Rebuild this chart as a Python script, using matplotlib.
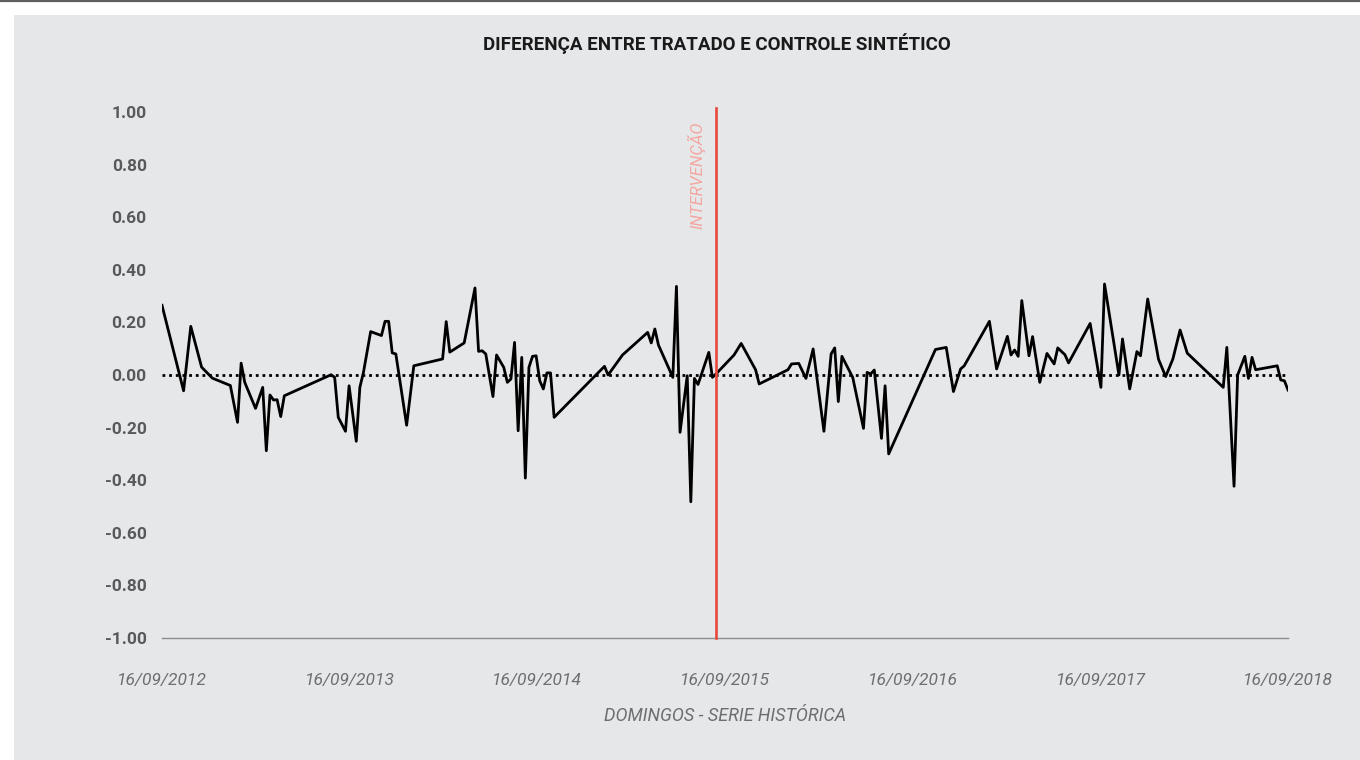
import numpy as np
import pandas as pd
import matplotlib
matplotlib.use("Agg")
import matplotlib.pyplot as plt
import matplotlib.dates as mdates
from matplotlib.patches import Rectangle
from matplotlib.lines import Line2D

# weekly series (sundays), counted in weeks from 16/09/2012
start = "2012-09-16"
weeks = [0, 6, 8, 11, 14, 19, 21, 22, 23, 26, 28, 29, 30, 31, 32, 33, 34,
         47, 48, 49, 51, 52, 54, 55, 56, 58, 61, 62, 63, 64, 65, 68, 70,
         78, 79, 80, 84, 87, 88, 89, 90, 92, 93, 95, 96, 97, 98, 99, 100,
         101, 102, 103, 104, 105, 106, 107, 108, 109,
         123, 124, 128, 135, 136, 137, 138, 142, 143, 144, 146, 147, 148, 149,
         152, 153, 154,
         159, 161, 165, 166, 174, 175, 177, 179, 181, 184, 186, 187, 188, 189,
         192, 195, 196, 197, 198, 200, 201, 202,
         215, 218, 220, 222, 223, 230, 232, 235, 236, 237, 238, 239, 241, 242,
         244, 246, 248, 249, 251, 252, 258, 261, 262, 266, 267, 269, 271, 272,
         274, 277, 279, 281, 283, 285, 295, 296, 298, 299, 301, 302, 303, 304,
         310, 311, 312, 313]
diff = [0.265, -0.060, 0.185, 0.030, -0.012, -0.040, -0.180, 0.045, -0.028, -0.127, -0.047, -0.288, -0.076, -0.095, -0.094, -0.158, -0.079,
        0.001, -0.009, -0.161, -0.214, -0.041, -0.252, -0.047, 0.010, 0.165, 0.150, 0.204, 0.204, 0.084, 0.080, -0.191, 0.035,
        0.061, 0.203, 0.087, 0.122, 0.331, 0.090, 0.092, 0.080, -0.082, 0.076, 0.029, -0.028, -0.015, 0.124, -0.212, 0.067,
        -0.392, 0.029, 0.071, 0.073, -0.022, -0.053, 0.008, 0.008, -0.161,
        0.033, 0.000, 0.076, 0.162, 0.122, 0.175, 0.114, -0.009, 0.337, -0.218, -0.003, -0.482, -0.013, -0.036,
        0.086, -0.009, 0.004,
        0.076, 0.120, 0.020, -0.034, 0.020, 0.042, 0.044, -0.013, 0.099, -0.214, 0.080, 0.103, -0.101, 0.071,
        -0.009, -0.203, 0.010, 0.004, 0.019, -0.241, -0.041, -0.300,
        0.097, 0.105, -0.063, 0.023, 0.035, 0.204, 0.023, 0.147, 0.076, 0.095, 0.071, 0.283, 0.073, 0.146,
        -0.028, 0.082, 0.042, 0.103, 0.077, 0.046, 0.196, -0.047, 0.346, 0.000, 0.137, -0.053, 0.089, 0.073,
        0.289, 0.060, -0.006, 0.061, 0.171, 0.083, -0.047, 0.105, -0.423, 0.000, 0.071, -0.013, 0.067, 0.020,
        0.035, -0.019, -0.022, -0.057]
intervention = "2015-08-30"
xticks = ["2012-09-16", "2013-09-16", "2014-09-16", "2015-09-16",
          "2016-09-16", "2017-09-16", "2018-09-16"]
yticks = [-1.0, -0.8, -0.6, -0.4, -0.2, 0.0, 0.2, 0.4, 0.6, 0.8, 1.0]

title = "DIFERENÇA ENTRE TRATADO E CONTROLE SINTÉTICO"
xlabel = "DOMINGOS - SERIE HISTÓRICA"
interv_label = "INTERVENÇÃO"

plt.rcParams['font.family'] = ['Roboto', 'DejaVu Sans']

dates = pd.Timestamp(start) + pd.to_timedelta(np.array(weeks) * 7, unit="D")

bg = "#e6e7e9"
fig = plt.figure(figsize=(13.6, 7.6), dpi=100, facecolor="white")
# grey panel + thin dark rule at the top
fig.patches.append(Rectangle((14 / 1360, 0), 1 - 14 / 1360, 1 - 15 / 760,
                             transform=fig.transFigure, facecolor=bg,
                             edgecolor="none", zorder=-5))
fig.lines.append(Line2D([0, 1], [1 - 1 / 760, 1 - 1 / 760], transform=fig.transFigure,
                        color="#5f5f5f", linewidth=1.6, zorder=-4))

ax = fig.add_axes([162 / 1360, 122 / 760, 1126 / 1360, 526 / 760])
ax.set_facecolor("none")

ax.plot(dates, diff, color="black", linewidth=2.0, zorder=3)
ax.axhline(0, color="black", linewidth=2.0, linestyle=(0, (1, 1.4)), zorder=2)
ax.axvline(pd.Timestamp(intervention), ymin=0, ymax=1.008, color="#e8473e",
           linewidth=1.9, clip_on=False, zorder=4)
ax.text(pd.Timestamp(intervention) - pd.Timedelta(days=39), 0.76, interv_label,
        rotation=90, ha="center", va="center", color="#f4a6a1",
        fontsize=12, fontstyle="italic")

ax.set_xlim(pd.Timestamp(xticks[0]), pd.Timestamp(xticks[-1]))
ax.set_ylim(-1.0, 1.0)
ax.set_xticks([pd.Timestamp(t) for t in xticks])
ax.xaxis.set_major_formatter(mdates.DateFormatter("%d/%m/%Y"))
ax.set_yticks(yticks)
ax.set_yticklabels([f"{v:.2f}" for v in yticks])

for s in ["top", "right", "left"]:
    ax.spines[s].set_visible(False)
ax.spines["bottom"].set_color("#8c8c8c")
ax.spines["bottom"].set_linewidth(1.0)
ax.tick_params(axis="both", length=0)
ax.tick_params(axis="y", pad=11, labelsize=12.5, labelcolor="#58595b")
ax.tick_params(axis="x", pad=25, labelsize=12.5, labelcolor="#6d6e71")
for lbl in ax.get_yticklabels():
    lbl.set_fontweight("bold")
for lbl in ax.get_xticklabels():
    lbl.set_fontstyle("italic")

ax.set_xlabel(xlabel, fontsize=13, fontstyle="italic", color="#6d6e71", labelpad=14)
fig.text(717 / 1360, 1 - 44 / 760, title, ha="center", va="center",
         fontsize=13.5, fontweight="bold", color="#1a1a1a")

fig.savefig("out.png", dpi=100, facecolor="white")
